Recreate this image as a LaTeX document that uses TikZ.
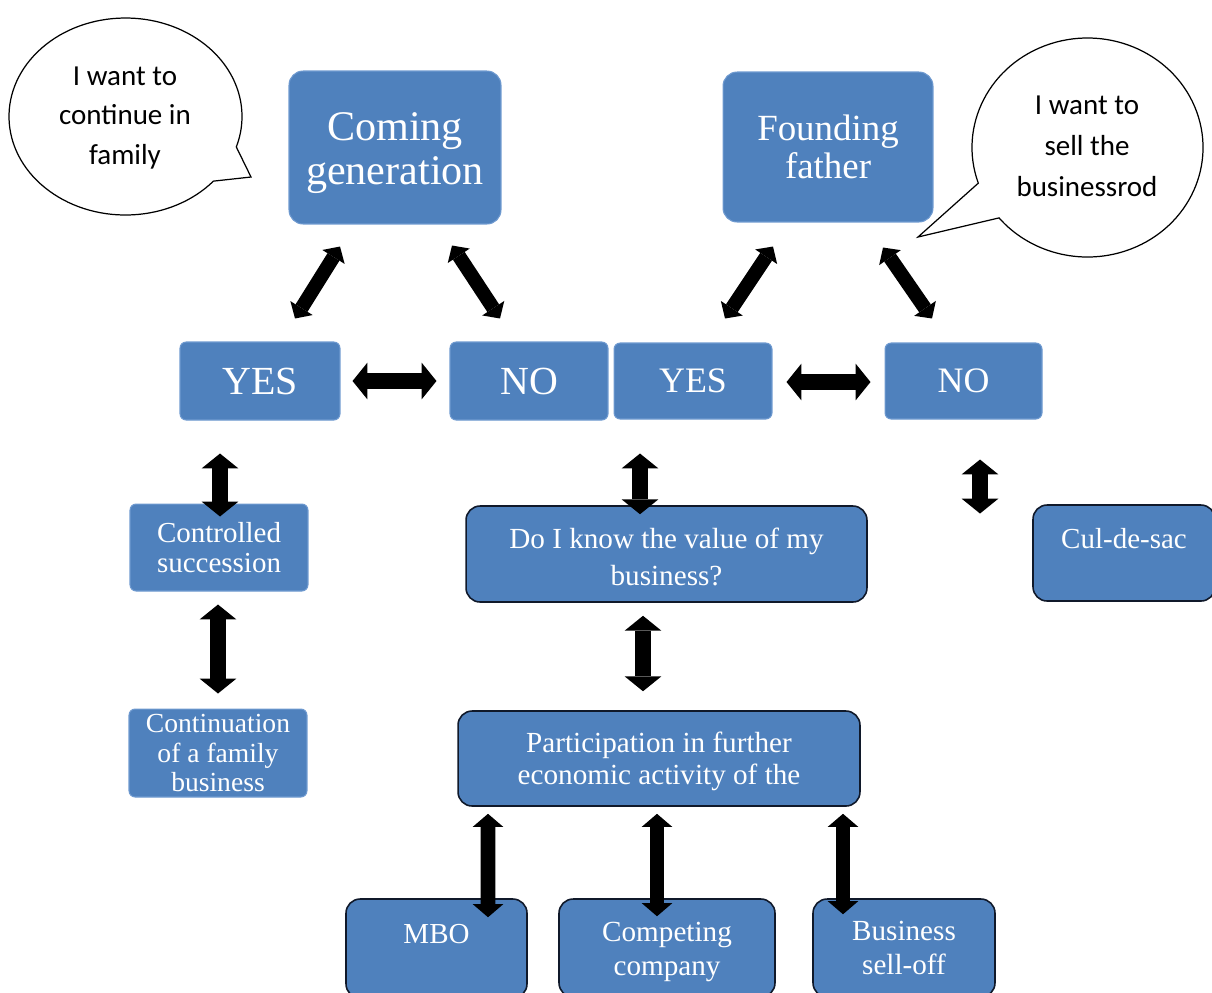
\documentclass[tikz,border=0pt]{standalone}
\usepackage{fontspec}
\setmainfont{Liberation Serif}
\newfontfamily\bubblefont{Carlito}
\usetikzlibrary{arrows.meta, calc}

\definecolor{boxblue}{HTML}{4F81BD}
\definecolor{boxedge}{HTML}{6F9AD0}
\definecolor{frameedge}{HTML}{10192A}
% strut that pushes a box text down a little
\newcommand{\dropline}[1]{\rule{0pt}{#1}}

\begin{document}
\begin{tikzpicture}[
    x=0.02cm, y=-0.02cm,
    box/.style={rectangle, rounded corners=3.5pt, fill=boxblue, draw=boxedge, line width=0.6pt, text=white, align=center, inner sep=0pt},
    bigbox/.style={box, rounded corners=8pt},
    framed/.style={box, draw=frameedge, line width=0.9pt, rounded corners=8pt},
    bubble/.style={draw=black, line width=0.7pt, fill=white},
    saytext/.style={align=center, font=\bubblefont\fontsize{16.5pt}{22.7pt}\selectfont},
    dblarrow/.style={{Triangle[length=8.5pt, width=21pt, line width=0pt]}-{Triangle[length=8.5pt, width=21pt, line width=0pt]}, line width=9.5pt},
    diagarrow/.style={{Triangle[length=7pt, width=15pt, line width=0pt]}-{Triangle[length=7pt, width=15pt, line width=0pt]}, line width=8pt},
    lowarrow/.style={{Triangle[length=7.5pt, width=17.5pt, line width=0pt]}-{Triangle[length=7.5pt, width=17.5pt, line width=0pt]}, line width=8.5pt}
]
\useasboundingbox (0,0) rectangle (1212,992);

% Speech bubbles
\coordinate (bubL) at (125.5,116.5);
\coordinate (bubR) at (1087.5,147.5);
\draw[bubble] ($(bubL)+(41:116.5 and 98.5)$) arc[start angle=41, end angle=378, x radius=116.5, y radius=98.5] -- (251,177) -- cycle;
\draw[bubble] ($(bubR)+(161:115.5 and 109.5)$) arc[start angle=161, end angle=500, x radius=115.5, y radius=109.5] -- (918,237) -- cycle;
\node[saytext] (sayL) at (125,118) {I want to\\continue in\\family};
\node[saytext, font=\bubblefont\fontsize{16.5pt}{23.5pt}\selectfont] (sayR) at (1087,146.5) {I want to\\sell the\\businessrod};

% Top boxes
\node[bigbox, minimum width=4.24cm, minimum height=3.06cm, font=\fontsize{24pt}{25pt}\selectfont] (cg) at (395,147.5) {\dropline{22pt}Coming\\generation};
\node[bigbox, minimum width=4.2cm, minimum height=3cm, font=\fontsize{21pt}{21.5pt}\selectfont] (ff) at (828,147) {Founding\\father};

% YES / NO row
\node[box, minimum width=3.2cm, minimum height=1.56cm, font=\fontsize{22.7pt}{24pt}\selectfont] (yesL) at (260,381) {YES};
\node[box, minimum width=3.16cm, minimum height=1.56cm, font=\fontsize{22.7pt}{24pt}\selectfont] (noL) at (529,381) {NO};
\node[box, minimum width=3.16cm, minimum height=1.52cm, font=\fontsize{20.4pt}{22pt}\selectfont] (yesR) at (693,381) {YES};
\node[box, minimum width=3.14cm, minimum height=1.52cm, font=\fontsize{20.4pt}{22pt}\selectfont] (noR) at (963.5,381) {NO};

% Left branch
\node[box, minimum width=3.56cm, minimum height=1.74cm, font=\fontsize{16.5pt}{17pt}\selectfont] (cs) at (219,547.5) {Controlled\\succession};
\node[box, minimum width=3.56cm, minimum height=1.76cm, font=\fontsize{15.7pt}{16.7pt}\selectfont] (cfb) at (218,753) {Continuation\\of a family\\business};

% Middle and right branch
\node[framed, minimum width=8.02cm, minimum height=1.92cm, font=\fontsize{16.6pt}{21.5pt}\selectfont] (value) at (666.5,554) {\dropline{15pt}Do I know the value of my\\business?};
\node[framed, minimum width=3.64cm, minimum height=1.92cm, font=\fontsize{16.5pt}{17pt}\selectfont] (culdesac) at (1124,553) {Cul-de-sac\\\mbox{}};
\node[framed, minimum width=8.04cm, minimum height=1.9cm, font=\fontsize{16.6pt}{18.7pt}\selectfont] (part) at (659,758.5) {\dropline{15pt}Participation in further\\economic activity of the};

% Bottom row
\node[framed, minimum width=3.62cm, minimum height=1.98cm, font=\fontsize{16.5pt}{17pt}\selectfont] (mbo) at (436.5,948.5) {MBO\\\mbox{}};
\node[framed, minimum width=4.32cm, minimum height=1.96cm, font=\fontsize{16.6pt}{19.3pt}\selectfont] (comp) at (667,948) {\dropline{15pt}Competing\\company};
\node[framed, minimum width=3.64cm, minimum height=1.96cm, font=\fontsize{16.6pt}{19.3pt}\selectfont] (sell) at (904,948) {Business\\sell-off};

% Arrows
\draw[diagarrow] ($(cg.south)+(-55,22)$) -- ($(yesL.north)+(35,-23)$);
\draw[diagarrow] ($(cg.south)+(57,21)$) -- ($(noL.north)+(-29,-23)$);
\draw[diagarrow] ($(ff.south)+(-55,24)$) -- ($(yesR.north)+(32,-24)$);
\draw[diagarrow] ($(ff.south)+(55,25)$) -- ($(noR.north)+(-31.5,-24)$);

\draw[dblarrow] ($(yesL.east)+(12,0)$) -- ($(noL.west)+(-13,0)$);
\draw[dblarrow] ($(yesR.east)+(14,1)$) -- ($(noR.west)+(-14,1)$);

\draw[dblarrow] ($(yesL.south)+(-40,33)$) -- ($(cs.north)+(1,13)$);
\draw[dblarrow] ($(cs.south)+(-1,13)$) -- ($(cfb.north)+(0,-15)$);
\draw[dblarrow] ($(yesR.south)+(-53,34)$) -- ($(value.north)+(-26.5,9)$);
\draw[dblarrow] ($(value.south)+(-23.5,13)$) -- ($(part.north)+(-16,-19)$);

\coordinate (deadend) at ($(noR.south)+(16.5,94)$);
\draw[dblarrow] ($(noR.south)+(16.5,40)$) -- (deadend);

\draw[lowarrow] ($(part.south)+(-171,7)$) -- ($(mbo.north)+(51.5,19)$);
\draw[lowarrow] ($(part.south)+(-2,7)$) -- ($(comp.north)+(-10,18)$);
\draw[lowarrow] ($(part.south)+(184,7)$) -- ($(sell.north)+(-61,16)$);

\end{tikzpicture}
\end{document}
